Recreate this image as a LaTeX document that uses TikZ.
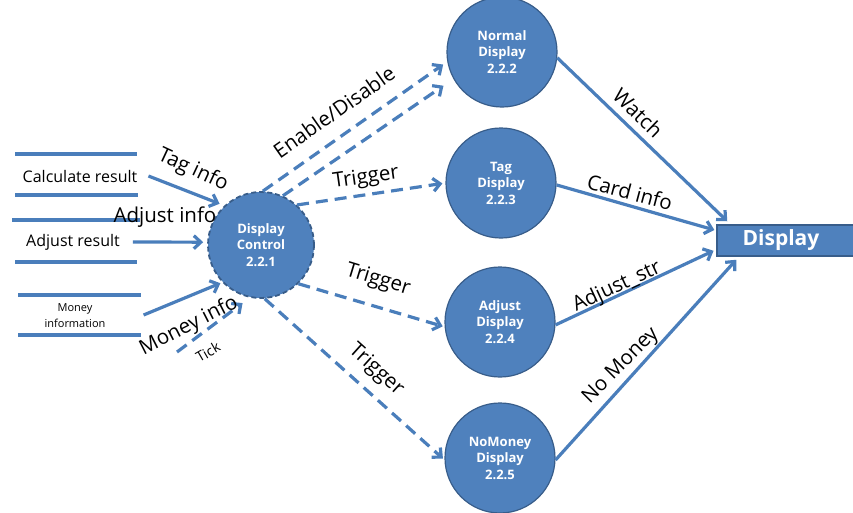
\documentclass[tikz,border=0pt]{standalone}
\usepackage{fontspec}
\setmainfont{Open Sans}
\usetikzlibrary{arrows.meta}
\definecolor{procfill}{RGB}{79,129,189}
\definecolor{procedge}{RGB}{56,93,138}
\definecolor{flowblue}{RGB}{74,126,187}
\tikzset{
  proc/.style={circle, fill=procfill, draw=procedge, line width=1.2pt,
    minimum size=110pt, inner sep=0pt, text=white, align=center,
    font=\bfseries\fontsize{13}{16.5}\selectfont},
  ctrl/.style={proc, minimum size=106pt, line width=1.8pt,
    dash pattern=on 5pt off 3pt},
  sink/.style={rectangle, fill=procfill, draw=procedge, line width=1.5pt,
    minimum width=140pt, minimum height=31pt, inner sep=0pt, text=white,
    font=\bfseries\fontsize{21}{24}\selectfont},
  store/.style={inner sep=1pt, align=center, font=\fontsize{16}{19}\selectfont},
  storeline/.style={flowblue, line width=3.3pt},
  flow/.style={flowblue, line width=3.2pt, -{Straight Barb[length=7pt,width=13pt]}},
  ctlflow/.style={flow, dash pattern=on 12pt off 7pt},
  lbl/.style={inner sep=0pt, font=\fontsize{20.5}{24}\selectfont},
}
\begin{document}
\begin{tikzpicture}[x=1pt,y=-1pt]
\useasboundingbox (0,0) rectangle (853,512);

% processes
\node[ctrl] (dc) at (261,245) {Display\\Control\\2.2.1};
\node[proc] (nd) at (502,52) {Normal\\Display\\2.2.2};
\node[proc] (td) at (501,183) {Tag\\Display\\2.2.3};
\node[proc] (ad) at (500,322) {Adjust\\Display\\2.2.4};
\node[proc] (nm) at (500,458) {NoMoney\\Display\\2.2.5};
\node[sink] (disp) at (787,240.5) {\hspace*{-12pt}Display};

% data stores
\draw[storeline] (15,154) -- (137,154) (15,195) -- (138,195);
\draw[storeline] (12,220) -- (140,220) (15,262) -- (137,262);
\draw[storeline] (18,295) -- (141,295) (18,335) -- (141,335);
\node[store] (calc) at (80,176) {Calculate result};
\node[store] (adjr) at (73,242) {Adjust result};
\node[store, font=\fontsize{11}{16}\selectfont] (mon) at (75,316) {Money\\information};
\coordinate (tk) at (177,352);

% inputs to display control
\draw[flow, shorten >=5pt] ([xshift=10pt]calc.east) -- (dc.133);
\draw[flow, shorten >=4pt] ([xshift=12pt]adjr.east) -- (dc.177);
\draw[flow, shorten >=2pt] ([xshift=37pt,yshift=1pt]mon.east) -- (dc.224);
\draw[ctlflow, shorten >=9pt] (tk) -- (dc.258);

% control flows
\draw[ctlflow, shorten >=5pt] (dc.88) -- (nd.190);
\draw[ctlflow, shorten >=12pt] (dc.66) -- (nd.209);
\draw[ctlflow, shorten >=3pt] (dc.48) -- (td.180);
\draw[ctlflow, shorten >=2pt] (dc.-46) -- (ad.185);
\draw[ctlflow, shorten >=2pt] (dc.-86) -- (nm.182);

% outputs to the display
\draw[flow] (nd.-6) -- ([xshift=11pt,yshift=3pt]disp.north west);
\draw[flow, shorten >=2pt] (td.-2) -- ([yshift=10pt]disp.west);
\draw[flow, shorten >=3pt] (ad.-3) -- ([yshift=-9pt]disp.west);
\draw[flow] (nm.-2) -- ([xshift=20pt,yshift=-3pt]disp.south west);

% labels
\node[lbl, rotate=-25] (l1) at (193,170) {Tag info};
\node[lbl] (l2) at (165,217) {Adjust info};
\node[lbl, rotate=27] (l3) at (189,326) {Money info};
\node[lbl, rotate=30, font=\fontsize{14}{16}\selectfont] (l4) at (208,352) {Tick};
\node[lbl, rotate=35] (l5) at (334,112) {Enable/Disable};
\node[lbl, rotate=8] (l6) at (366,178) {Trigger};
\node[lbl, rotate=-17] (l7) at (378,280) {Trigger};
\node[lbl, rotate=-42] (l8) at (376,370) {Trigger};
\node[lbl, rotate=-44] (l9) at (638,113) {Watch};
\node[lbl, rotate=-15] (l10) at (630,192) {Card info};
\node[lbl, rotate=25] (l11) at (617,287) {Adjust\_str};
\node[lbl, rotate=45] (l12) at (621,366) {No Money};
\end{tikzpicture}
\end{document}
